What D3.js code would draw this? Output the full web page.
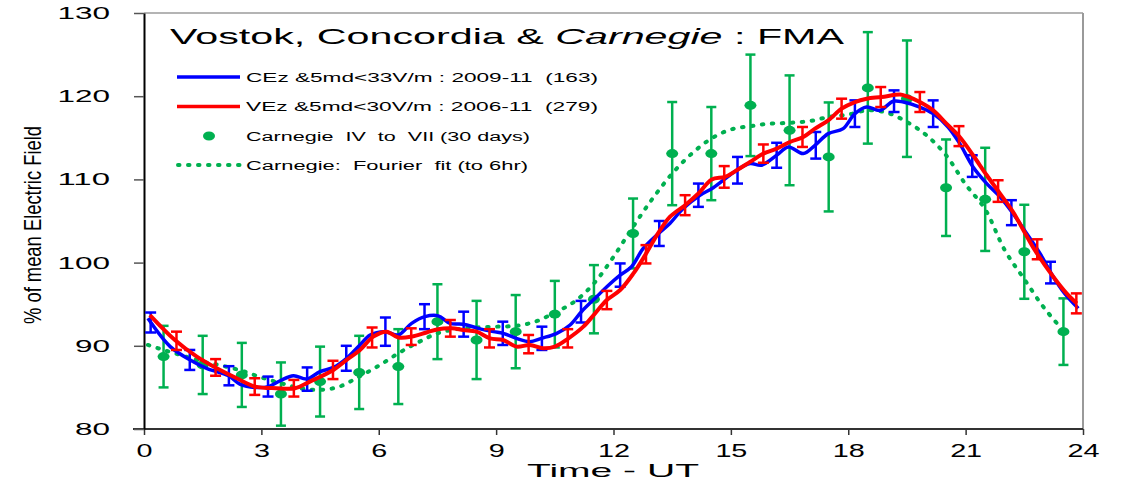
<!DOCTYPE html>
<html><head><meta charset="utf-8">
<script src="https://cdn.jsdelivr.net/npm/d3@7"></script>
<style>
html,body{margin:0;padding:0;background:#fff;}
svg{display:block;font-family:"Liberation Sans",Arial,sans-serif;}
</style></head>
<body><svg id="c" width="1130" height="483"></svg>
<script>
// ---------------- data ----------------
const xTicks = [0,3,6,9,12,15,18,21,24];
const yTicks = [80,90,100,110,120,130];

// Concordia (blue) line
const concordiaLine = [[0.10,93.3],[0.67,89.9],[1.18,88.3],[1.60,87.3],[2.16,86.4],[2.45,85.4],[2.84,85.0],[3.18,85.1],[3.48,85.8],[3.82,86.4],[4.16,86.0],[4.50,86.9],[4.84,87.4],[5.18,88.5],[5.50,90.0],[5.78,91.3],[6.16,91.7],[6.50,91.3],[6.84,92.7],[7.18,93.5],[7.52,93.6],[7.82,92.7],[8.16,92.6],[8.54,92.1],[8.93,91.7],[9.18,91.5],[9.52,90.9],[9.86,90.5],[10.16,90.9],[10.55,91.5],[10.89,92.5],[11.18,94.1],[11.57,95.9],[11.83,97.1],[12.17,98.5],[12.46,99.5],[12.76,101.7],[13.15,103.5],[13.44,104.7],[13.78,106.5],[14.21,108.1],[14.55,109.0],[15.15,111.1],[15.49,111.9],[15.78,111.7],[16.17,112.9],[16.47,113.9],[16.85,113.1],[17.15,114.1],[17.49,115.5],[17.87,116.1],[18.17,117.9],[18.47,118.7],[18.81,118.3],[19.15,119.4],[19.41,119.3],[19.83,118.7],[20.17,117.9],[20.55,116.3],[20.85,114.3],[21.19,111.5],[21.54,109.5],[21.88,107.9],[22.21,105.9],[22.56,103.5],[22.90,101.1],[23.24,98.3],[23.53,96.3],[23.88,94.5]];
const concordiaBarT = [0.17,1.17,2.17,3.17,4.17,5.17,6.17,7.17,8.17,9.17,10.17,11.17,12.17,13.17,14.17,15.17,16.17,17.17,18.17,19.17,20.17,21.17,22.17,23.17];
const concordiaBarV = [92.8,88.3,86.4,85.1,86.0,88.5,91.7,93.5,92.6,91.5,90.9,94.1,98.5,103.5,108.1,111.1,112.9,114.1,117.9,119.4,117.9,111.6,106.0,98.8];
const concordiaBarE = [1.2,1.2,1.15,1.2,1.4,1.5,1.7,1.5,1.5,1.4,1.4,1.3,1.4,1.5,1.4,1.6,1.5,1.6,1.6,1.3,1.6,1.3,1.5,1.3];

// Vostok (red) line
const vostokLine = [[0.15,93.7],[0.79,90.7],[1.35,88.7],[1.86,87.3],[2.37,86.1],[2.84,85.1],[3.39,84.9],[3.86,84.9],[4.24,85.7],[4.84,87.1],[5.18,88.3],[5.52,89.5],[5.86,91.1],[6.20,91.7],[6.50,91.0],[6.84,91.1],[7.22,91.6],[7.52,92.0],[7.86,92.1],[8.16,91.9],[8.50,91.7],[8.84,90.9],[9.18,90.7],[9.52,89.9],[9.86,90.1],[10.20,89.7],[10.50,89.9],[10.85,90.9],[11.23,92.3],[11.53,93.9],[11.83,95.5],[12.17,96.7],[12.51,98.7],[12.81,100.9],[13.11,103.3],[13.44,105.5],[13.83,106.9],[14.17,108.3],[14.51,110.0],[14.85,110.3],[15.15,111.1],[15.49,112.1],[15.83,113.1],[16.17,113.7],[16.51,114.5],[16.85,115.1],[17.15,116.1],[17.49,117.1],[17.83,118.5],[18.17,119.3],[18.47,119.7],[18.85,119.9],[19.32,120.2],[19.49,120.0],[19.83,119.3],[20.17,118.3],[20.51,116.7],[20.85,115.1],[21.19,112.9],[21.54,110.5],[21.88,108.3],[22.21,106.1],[22.77,101.5],[23.24,98.3],[23.58,96.3],[23.84,95.1]];
const vostokBarT = [0.83,1.83,2.83,3.83,4.83,5.83,6.83,7.83,8.83,9.83,10.83,11.83,12.83,13.83,14.83,15.83,16.83,17.83,18.83,19.83,20.83,21.83,22.83,23.83];
const vostokBarV = [90.6,87.4,85.1,84.9,87.1,91.0,91.1,92.1,90.9,90.2,90.9,95.5,101.0,106.9,110.3,113.1,115.1,118.5,119.9,119.3,115.2,108.6,101.6,95.1];
const vostokBarE = [1.1,1.0,1.0,1.0,1.1,1.2,1.0,1.0,1.1,1.1,1.1,1.1,1.1,1.2,1.3,1.1,1.2,1.2,1.2,1.2,1.2,1.3,1.2,1.2];

// Carnegie points (hourly means) and error bars
const carnegieT = [0.5,1.5,2.5,3.5,4.5,5.5,6.5,7.5,8.5,9.5,10.5,11.5,12.5,13.5,14.5,15.5,16.5,17.5,18.5,19.5,20.5,21.5,22.5,23.5];
const carnegieV = [88.7,87.7,86.5,84.2,85.7,86.8,87.5,92.9,90.7,91.7,93.8,95.6,103.5,113.1,113.1,118.9,115.9,112.7,121.0,119.7,109.0,107.6,101.3,91.7];
const carnegieE = [3.7,3.5,3.85,3.8,4.2,4.4,4.5,4.5,4.7,4.4,4.0,4.1,4.2,6.2,5.6,6.1,6.6,6.55,6.7,7.0,5.8,6.2,5.65,4.0];

// Carnegie Fourier fit
const fitT = [0.1,0.5,1.0,1.5,2.0,2.5,3.0,3.5,4.0,4.5,5.0,5.5,6.0,6.5,7.0,7.5,8.0,8.5,9.0,9.5,10.0,10.5,11.0,11.5,12.0,12.5,13.0,13.5,14.0,14.5,15.0,15.5,16.0,16.5,17.0,17.5,18.0,18.5,19.0,19.5,20.0,20.5,21.0,21.5,22.0,22.5,23.0,23.5];
const fitV = [90.1,89.5,88.8,88.1,87.6,87.0,86.2,85.5,84.9,84.7,85.1,86.3,87.6,89.1,90.4,91.5,92.0,92.2,92.3,92.4,92.9,94.0,95.3,97.5,100.7,104.3,107.7,110.7,113.1,114.9,116.0,116.4,116.7,116.8,117.0,117.5,117.8,118.3,118.0,116.9,115.3,112.9,109.4,106.4,101.5,98.0,94.6,91.8];

const legendLabels = ["CEz &5md<33V/m : 2009-11  (163)","VEz &5md<30V/m : 2006-11  (279)","Carnegie  IV  to  VII (30 days)","Carnegie:  Fourier  fit (to 6hr)"];

// ---------------- chart ----------------
const BLUE="#0000ff", RED="#ff0000", GREEN="#00b050";
const svg = d3.select("#c");
const x = d3.scaleLinear().domain([0,24]).range([144,1083]);
const y = d3.scaleLinear().domain([80,130]).range([429,13]);

// frame (top/right light grey)
svg.append("line").attr("x1",144).attr("x2",1083).attr("y1",13).attr("y2",13).attr("stroke","#b4b4b4").attr("stroke-width",2);
svg.append("line").attr("x1",1083).attr("x2",1083).attr("y1",13).attr("y2",429).attr("stroke","#9a9a9a").attr("stroke-width",2);

// axes
const gx = svg.append("g").attr("transform","translate(0,429)")
  .call(d3.axisBottom(x).tickValues(xTicks).tickSize(6).tickPadding(9).tickSizeOuter(0));
gx.select(".domain").attr("stroke","#333").attr("stroke-width",2).attr("d","M133,0H1083");
gx.selectAll(".tick line").attr("stroke","#333").attr("stroke-width",1.5);
gx.selectAll(".tick text").attr("font-size",19).attr("fill","#000").attr("font-family","Liberation Sans, Arial, sans-serif")
  .attr("dy","0.71em")
  .each(function(d){ const s=String(d); d3.select(this).attr("textLength", s.length*16).attr("lengthAdjust","spacingAndGlyphs"); });

const gy = svg.append("g").attr("transform","translate(144,0)")
  .call(d3.axisLeft(y).tickValues(yTicks).tickSize(10).tickPadding(24).tickSizeOuter(0));
gy.select(".domain").attr("stroke","#000").attr("stroke-width",2);
gy.selectAll(".tick line").attr("stroke","#555").attr("stroke-width",1.5);
gy.selectAll(".tick text").attr("font-size",17).attr("fill","#000").attr("font-family","Liberation Sans, Arial, sans-serif")
  .each(function(d){ const s=String(d); d3.select(this).attr("textLength", s.length*17.5).attr("lengthAdjust","spacingAndGlyphs"); });

// axis titles
svg.append("text").attr("x",613).attr("y",477).attr("text-anchor","middle").attr("font-size",19)
  .attr("textLength",172).attr("lengthAdjust","spacingAndGlyphs").text("Time - UT");
svg.append("text").attr("transform","translate(41,225) scale(1.35,1) rotate(-90)").attr("text-anchor","middle")
  .attr("font-size",18).attr("textLength",198).attr("lengthAdjust","spacingAndGlyphs").text("% of mean Electric Field");

// Fourier fit dotted
const lineGen = d3.line().x(d=>x(d[0])).y(d=>y(d[1])).curve(d3.curveCatmullRom.alpha(0.5));
const fitData = fitT.map((t,i)=>[t,fitV[i]]);
svg.append("path").attr("d",lineGen(fitData)).attr("fill","none").attr("stroke",GREEN)
  .attr("stroke-width",4).attr("stroke-dasharray","1.5 8.5").attr("stroke-linecap","round");

// error bar helper
function bars(ts, vs, es, color, cap, sw){
  const g = svg.append("g").attr("stroke",color).attr("stroke-width",sw).attr("fill","none");
  ts.forEach((t,i)=>{
    const cx=x(t), y1=y(vs[i]+es[i]), y2=y(vs[i]-es[i]);
    g.append("line").attr("x1",cx).attr("x2",cx).attr("y1",y1).attr("y2",y2);
    g.append("line").attr("x1",cx-cap).attr("x2",cx+cap).attr("y1",y1).attr("y2",y1);
    g.append("line").attr("x1",cx-cap).attr("x2",cx+cap).attr("y1",y2).attr("y2",y2);
  });
}
// Carnegie bars and points
bars(carnegieT, carnegieV, carnegieE, GREEN, 5, 2.5);
svg.append("g").selectAll("ellipse").data(carnegieT).join("ellipse")
  .attr("cx",d=>x(d)).attr("cy",(d,i)=>y(carnegieV[i])).attr("rx",6).attr("ry",4.5).attr("fill",GREEN);

// Concordia (blue)
bars(concordiaBarT, concordiaBarV, concordiaBarE, BLUE, 5.5, 2.5);
svg.append("path").attr("d",lineGen(concordiaLine)).attr("fill","none").attr("stroke",BLUE).attr("stroke-width",3.5);

// Vostok (red)
bars(vostokBarT, vostokBarV, vostokBarE, RED, 5.5, 2.5);
svg.append("path").attr("d",lineGen(vostokLine)).attr("fill","none").attr("stroke",RED).attr("stroke-width",4);

// title
const title = svg.append("text").attr("x",170).attr("y",44).attr("font-size",22)
  .attr("textLength",674).attr("lengthAdjust","spacingAndGlyphs");
title.append("tspan").text("Vostok, Concordia & ");
title.append("tspan").attr("font-style","italic").text("Carnegie");
title.append("tspan").text(" : FMA");

// legend
const legY = [77,106.5,136,165];
const legW = [352,352,284,282];
svg.append("line").attr("x1",177).attr("x2",240).attr("y1",legY[0]).attr("y2",legY[0]).attr("stroke",BLUE).attr("stroke-width",3.5);
svg.append("line").attr("x1",177).attr("x2",240).attr("y1",legY[1]).attr("y2",legY[1]).attr("stroke",RED).attr("stroke-width",3.5);
svg.append("ellipse").attr("cx",209).attr("cy",legY[2]).attr("rx",6).attr("ry",4.5).attr("fill",GREEN);
svg.append("line").attr("x1",178).attr("x2",240).attr("y1",legY[3]).attr("y2",legY[3]).attr("stroke",GREEN)
  .attr("stroke-width",4).attr("stroke-dasharray","1.5 8.5").attr("stroke-linecap","round");
legendLabels.forEach((s,i)=>{
  svg.append("text").attr("x",246).attr("y",legY[i]+4.5).attr("font-size",12.5)
    .attr("textLength",legW[i]).attr("lengthAdjust","spacingAndGlyphs").attr("xml:space","preserve")
    .style("white-space","pre").text(s);
});
</script></body></html>
